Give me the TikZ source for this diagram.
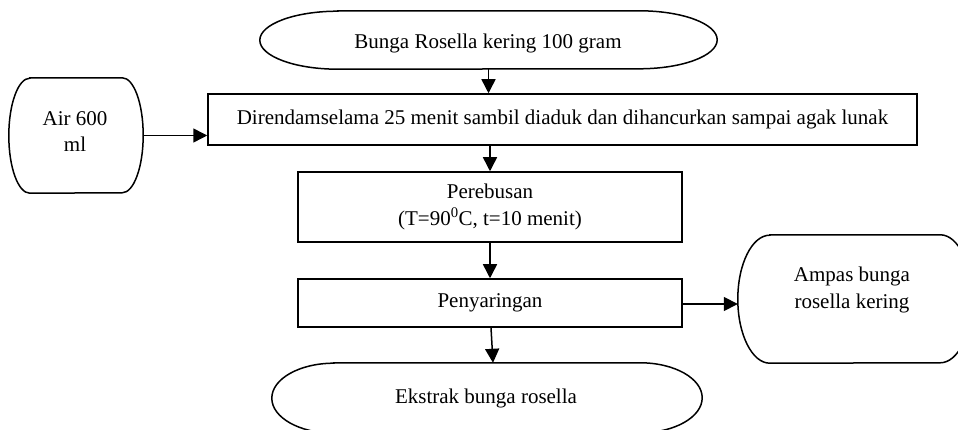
\documentclass[tikz,border=0pt]{standalone}
\usepackage{fontspec}
\setmainfont{Liberation Serif}
\usetikzlibrary{arrows.meta,calc}
\tikzset{
  ln/.style={line width=1.5pt},
  txt/.style={inner sep=0pt, font=\fontsize{21}{26.5}\selectfont, align=center},
  box/.style={draw, line width=1.5pt, rectangle, inner sep=0pt, font=\fontsize{21}{26.5}\selectfont, align=center},
  termbox/.style={draw=none, rectangle, inner sep=0pt},
  arr/.style={line width=1.5pt, -{Triangle[length=14pt,width=14pt]}},
}
\newcommand\termline[3]{%
  \draw[ln] ([xshift=#2]#1.north west) -- ([xshift=-#2]#1.north east)
     arc[start angle=90,end angle=-90,x radius=#2,y radius=#3]
     -- ([xshift=#2]#1.south west)
     arc[start angle=270,end angle=90,x radius=#2,y radius=#3] -- cycle;}
\begin{document}
\begin{tikzpicture}[x=1pt,y=1pt]
\useasboundingbox (0,0) rectangle (958,430);
\clip (0,0) rectangle (958,430);
% shapes
\node[termbox, minimum width=457pt, minimum height=58pt] (top) at (488.5,390) {};
\termline{top}{78pt}{29pt}
\node[txt] (toptxt) at (488,387) {Bunga Rosella kering 100 gram};

\node[box, minimum width=709pt, minimum height=51pt] (rend) at (562.5,310.5)
  {Direndamselama 25 menit sambil diaduk dan dihancurkan sampai agak lunak};

\node[termbox, minimum width=134pt, minimum height=115pt] (air) at (76,294.5) {};
\termline{air}{21pt}{57.5pt}
\node[txt] (airtxt) at (75,298.5) {Air 600\\ml};

\node[box, minimum width=384pt, minimum height=70pt] (pere) at (490,223)
  {Perebusan\\(T=90\textsuperscript{0}C, t=10 menit)};

\node[box, minimum width=384pt, minimum height=48pt] (peny) at (490,127) {Penyaringan};

\node[termbox, minimum width=234pt, minimum height=128pt] (ampas) at (855,131) {};
\termline{ampas}{32pt}{64pt}
\node[txt] (ampastxt) at (852,140) {Ampas bunga\\rosella kering};

\node[termbox, minimum width=430pt, minimum height=70pt] (eks) at (487,32) {};
\termline{eks}{62pt}{35pt}
\node[txt] (ekstxt) at (486,32) {Ekstrak bunga rosella};

% connectors
\draw[arr] (top.south) -- (top.south |- rend.north);
\draw[arr] (rend.south -| pere.north) -- (pere.north);
\draw[arr] (pere.south) -- (peny.north);
\draw[arr] ($(peny.south)+(1,0)$) -- ($(eks.north)+(6,0)$);
\draw[arr] (air.east) -- (air.east -| rend.west);
\draw[arr] ($(peny.east)+(0,-1)$) -- ($(peny.east -| ampas.west)+(0,-1)$);
\end{tikzpicture}
\end{document}
